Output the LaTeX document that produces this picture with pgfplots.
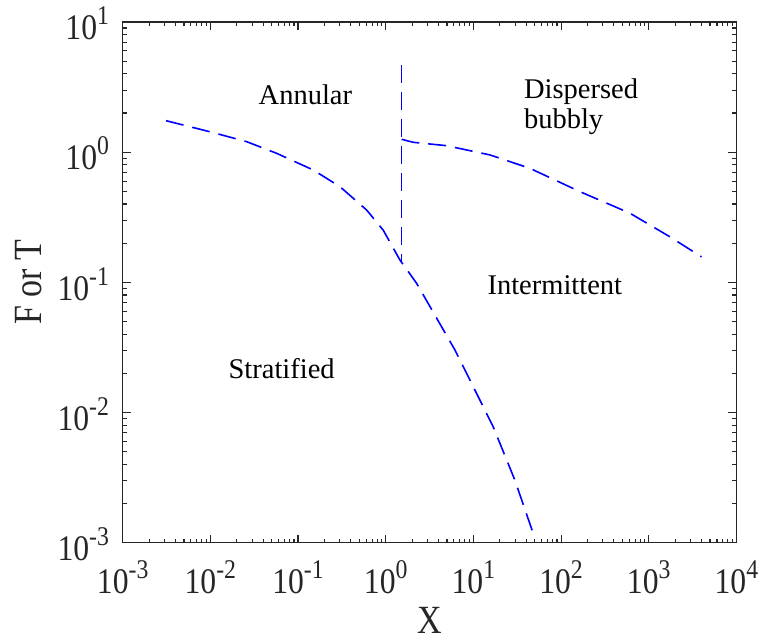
\documentclass[border=0pt]{standalone}
\usepackage{fontspec}
\setmainfont{Liberation Serif}
\usepackage{pgfplots}
\pgfplotsset{compat=1.18}
\definecolor{axgray}{rgb}{0.15,0.15,0.15}
\newcommand{\tl}[1]{\scalebox{0.88}[1]{10\raisebox{15pt}{\fontsize{27}{27}\selectfont #1}}}
\begin{document}
\begin{tikzpicture}
\begin{axis}[
  xmode=log, ymode=log, log basis x=10, log basis y=10,
  scale only axis, width=613.7pt, height=520.7pt,
  at={(0pt,0pt)}, anchor=south west,
  xmin=1e-3, xmax=1e4, ymin=1e-3, ymax=1e1,
  axis line style={axgray, line width=1.2pt},
  every tick/.style={axgray, line width=1.1pt},
  major tick length=8pt, minor tick length=4pt,
  tick label style={font=\fontsize{36}{36}\selectfont, text=axgray, inner sep=0pt},
  xticklabel={\tl{\pgfmathprintnumber[assume math mode=true]{\tick}}},
  yticklabel={\tl{\pgfmathprintnumber[assume math mode=true]{\tick}}},
  xticklabel style={anchor=base, yshift=-50.5pt},
  yticklabel style={anchor=base east, xshift=-13.5pt, yshift=-17.8pt},
  xlabel={\scalebox{0.85}[1]{X}}, ylabel={\scalebox{0.85}[1]{F or T}},
  label style={font=\fontsize{40}{40}\selectfont, text=axgray, inner sep=0pt},
  xlabel style={at={(axis description cs:0.5,-0.1734)}, anchor=base},
  ylabel style={at={(axis description cs:-0.1315,0.5)}, anchor=base, rotate=0},
  clip=false,
]
\addplot[blue, line width=1.6pt, dash pattern=on 18pt off 9pt] coordinates {
  (0.00312,1.746) (0.00989,1.435) (0.0259,1.205) (0.0570,0.980)
  (0.149,0.730) (0.301,0.543) (0.605,0.360) (0.936,0.252)
  (1.452,0.1486) (2.25,0.0984) (6.15,0.0303) (11.35,0.01324)
  (16.8,0.0078) (29.7,0.00303) (48.1,0.00118)
};
\addplot[blue, line width=1.6pt, dash pattern=on 18pt off 9pt] coordinates {
  (1.52,4.68) (1.52,0.145)
};
\addplot[blue, line width=1.6pt, dash pattern=on 18pt off 9pt] coordinates {
  (1.52,1.256) (2.06,1.191) (4.94,1.122) (15.4,0.953) (44.1,0.752)
  (163.7,0.498) (610,0.340) (1742,0.224) (4000,0.157)
};
\begin{scope}[every node/.style={font=\fontsize{28.5}{30}\selectfont, inner sep=0pt}]
\node[anchor=base] at (axis cs:0.1213,2.344) {Annular};
\node[anchor=base west] at (axis cs:37.66,2.594) {Dispersed};
\node[anchor=base west] at (axis cs:37.66,1.526) {bubbly};
\node[anchor=base] at (axis cs:84.9,0.0800) {Intermittent};
\node[anchor=base] at (axis cs:0.0650,0.01811) {Stratified};
\end{scope}
\end{axis}
\pgfresetboundingbox
\useasboundingbox (-122.7pt,-98.3pt) rectangle (636.3pt,542.7pt);
\end{tikzpicture}
\end{document}
